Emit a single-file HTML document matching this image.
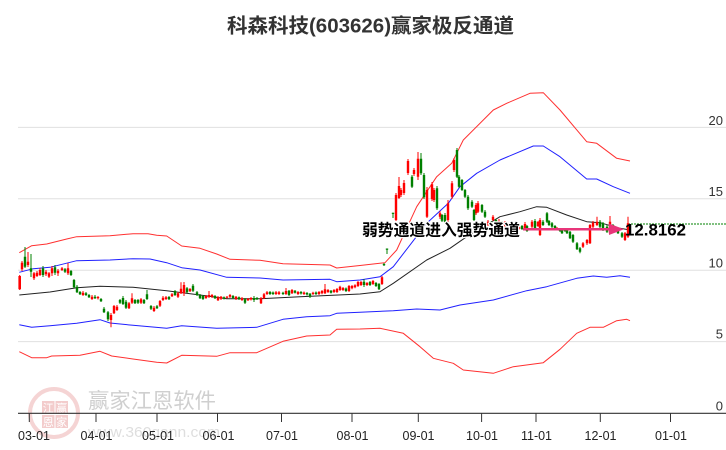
<!DOCTYPE html>
<html><head><meta charset="utf-8"><style>
html,body{margin:0;padding:0;background:#fff;}
svg{display:block;}
text{font-family:"Liberation Sans","Noto Sans CJK SC",sans-serif;}
</style></head><body>
<svg width="726" height="450" viewBox="0 0 726 450" xmlns="http://www.w3.org/2000/svg">
<rect width="726" height="450" fill="#fff"/>
<!-- watermark -->
<g opacity="0.75">
<circle cx="54" cy="413" r="24" fill="none" stroke="#f2c6c6" stroke-width="4"/>
<rect x="42" y="401" width="12.5" height="13" fill="#f0bcbc"/>
<rect x="55.5" y="401" width="12.5" height="13" fill="#f0bcbc"/>
<rect x="42" y="415" width="12.5" height="13" fill="#f0bcbc"/>
<rect x="55.5" y="415" width="12.5" height="13" fill="#f0bcbc"/>
<text x="48.2" y="412" font-size="11" fill="#fff" text-anchor="middle" font-family="Liberation Sans,Noto Sans CJK SC,sans-serif">江</text>
<text x="61.7" y="412" font-size="11" fill="#fff" text-anchor="middle">赢</text>
<text x="48.2" y="426" font-size="11" fill="#fff" text-anchor="middle">恩</text>
<text x="61.7" y="426" font-size="11" fill="#fff" text-anchor="middle">家</text>
</g>
<text x="88" y="408" font-size="21" fill="#cfcfcf" textLength="128" lengthAdjust="spacingAndGlyphs">赢家江恩软件</text>
<text x="88" y="437" font-size="15" fill="#dedede" textLength="132" lengthAdjust="spacingAndGlyphs">www.360gann.com</text>

<!-- title -->
<text x="227" y="32.5" font-size="20" font-weight="bold" fill="#333" textLength="287" lengthAdjust="spacingAndGlyphs">科森科技(603626)赢家极反通道</text>

<!-- grid -->
<g stroke="#e0e0e0" stroke-width="1">
<line x1="18" y1="127.4" x2="726" y2="127.4"/>
<line x1="18" y1="198.8" x2="726" y2="198.8"/>
<line x1="18" y1="270.2" x2="726" y2="270.2"/>
<line x1="18" y1="341.6" x2="726" y2="341.6"/>
</g>
<g font-size="13" fill="#333" text-anchor="end">
<text x="723" y="125">20</text>
<text x="723" y="196">15</text>
<text x="723" y="267.5">10</text>
<text x="723" y="338.5">5</text>
<text x="723" y="410.5">0</text>
</g>

<!-- x axis -->
<line x1="18" y1="413.3" x2="726" y2="413.3" stroke="#333" stroke-width="1.2"/>
<g stroke="#333" stroke-width="1">
<line x1="29.3" y1="413" x2="29.3" y2="422"/>
<line x1="96" y1="413" x2="96" y2="422"/>
<line x1="157" y1="413" x2="157" y2="422"/>
<line x1="217.5" y1="413" x2="217.5" y2="422"/>
<line x1="281.5" y1="413" x2="281.5" y2="422"/>
<line x1="352" y1="413" x2="352" y2="422"/>
<line x1="418.3" y1="413" x2="418.3" y2="422"/>
<line x1="481.6" y1="413" x2="481.6" y2="422"/>
<line x1="536" y1="413" x2="536" y2="422"/>
<line x1="600.3" y1="413" x2="600.3" y2="422"/>
<line x1="670.5" y1="413" x2="670.5" y2="422"/>
</g>
<g font-size="12.5" fill="#222" text-anchor="middle">
<text x="34" y="440">03-01</text>
<text x="96.5" y="440">04-01</text>
<text x="158" y="440">05-01</text>
<text x="218.5" y="440">06-01</text>
<text x="282" y="440">07-01</text>
<text x="352.5" y="440">08-01</text>
<text x="418.5" y="440">09-01</text>
<text x="482" y="440">10-01</text>
<text x="536.5" y="440">11-01</text>
<text x="600.5" y="440">12-01</text>
<text x="671" y="440">01-01</text>
</g>

<!-- bands -->
<g fill="none" stroke-width="1" stroke-linejoin="round">
<polyline stroke="#ff3030" points="19.3,252.7 31.7,245.7 46.7,244 66.7,239 76.7,236.7 110,235.7 133,233.7 148,233.7 156.7,235.3 166.7,236 181.7,246 200,248.3 216.7,254 230,259.3 260,260.3 283,263.7 330,265 336.7,268 360,265.5 385,262.7 396.7,250 416.7,206.7 436.7,176.7 451.7,163.3 463.3,140 493.3,110 506.7,103.3 530,93.3 543.3,92.7 560,110 586.7,141.7 596.7,143.3 616.7,158.3 630,161"/>
<polyline stroke="#2020ff" points="19.3,272.3 33.3,268.7 50,267.3 76.7,260.7 110,260 133,258.7 150,259 166.7,262.7 181.7,267.7 200,270 226.7,277.3 260,278 283,280 330,279.3 336.7,281.7 360,280 380,276.7 393.3,266.7 426.7,223.3 448.3,203.3 460,186.7 476.7,173.3 500,160 533.3,146 543.3,146 560,156.7 586.7,179 596.7,179 613.3,186.7 630,193.3"/>
<polyline stroke="#222" points="19.3,295 50,292 76.7,287.7 100,286.3 133,287.3 166.7,290.7 200,295 226.7,298.7 260,298.7 300,296.7 360,294 380,291.7 393.3,283.3 426.7,260 450,248.3 466.7,236.7 500,216.7 520,211.7 536.7,206.7 546.7,207.3 566.7,215 586.7,221.7 600,222.7 620,228.3 630,230"/>
<polyline stroke="#2020ff" points="19.3,324.7 31.7,327.3 50,325.7 76.7,323.3 100,319.7 110,323 133,325.3 166.7,328.3 181.7,325.7 216.7,328.3 256.7,327.3 283,319.3 306.7,316.7 330,315.7 336.7,313.3 360,312.3 393.3,310.7 416.7,309 440,310 460,305 493.3,300 526.7,290.7 546.7,286.7 576.7,278.3 593.3,276 606.7,277.3 620,275.7 630,277.3"/>
<polyline stroke="#ff3030" points="19.3,351.7 31.7,357.7 46.7,357.7 51.7,356 80,355.3 100,351.3 111.7,356 133,359 156.7,362.3 166.7,363 181.7,355.3 216.7,356.3 230,352.7 256.7,352.7 283,341.3 306.7,336 330,335 336.7,329.3 360,329 380,328.3 403.3,333.3 420,346.7 433.3,358.3 453.3,363.3 463.3,370 493.3,373.3 513.3,366.7 543.3,362.7 560,349.3 576.7,333.3 590,327.3 603.3,327.3 616.7,320.7 626.7,319.3 630,320.7"/>
</g>

<!-- green dashed level -->
<line x1="628" y1="224" x2="726" y2="224" stroke="#008000" stroke-width="1" stroke-dasharray="2,1"/>

<!-- candles: wicks -->
<path fill="none" stroke="#ff0000" stroke-width="1" d="M19.7,275V290M22,261V271M28,252V267M34,272V280M37,271V277M40,268V276M46,270V276M49,272V278M52,266V276M58,269V276M62,267V271M68,263V275M83,291V296M92,295V300M98,296V299.5M111,313V327.3M114,305V314M117,305V311M129,302V309M132,293.3V304M141,298V304M154,306V312M160,300V307M163,296V301M166,296V300M172,293V297M178,292V298M181,282.3V294M184,282V296M190,288V292M206,295V299M209,291V298M212,294V298M218,296V301M221,296V300M227,296V298.5M230,294V298M236,296V300M242,297V301M248,298V301M251,297V300.5M261,297V304M264,293V299M267,291V295M276,291V295M279,291V295M286,288V295M292,289V294M298,291V295M304,291.5V295M313,291.7V295M319,291V295M322,290V294.3M325,284V294M328,289V293M334,289V293M337,288V293M340,285.7V291M343,287V291M349,285V292M352,285V289.3M355,284.3V288.3M358,281V287M361,281V286M367,282V286M373,280V285M382,276V285M396,193V221M399,177V199M401,188V197M404,180V195M408,159V175M414,168V176M418,152V180M427,187V218M432,182V201M434,188V202M440,211V219M448,200V222M452,181V199M454,158V172M476,203V215M478,201V213M488,220V226M493,215V221M499,219V227M505,221V227M507,227V234M513,227V231M519,226V230M525,222V230M532,220V228M538,221V227M540,218V236M557,227V230.5M583,242V248M587,239V245M590,224V244M593,221V228M597,216.7V226M610,216V234M625,232V241M628,216.7V238"/>
<path fill="none" stroke="#008000" stroke-width="1" d="M25,247V268M31,254V277M43,266V277M55,265V275M65,268V273M71,270V276M74,279V288M77,285V293M80,291V295M86,292V296M89,294V298M95,295V299M101,298V302M104,307V313M108,311V321M120,299V304M123,296V305M126,300V309M135,299V304M138,299V304M144,299V304M147,290V300M151,305V310M157,305V309M169,296V300M175,290V296M187,287V293M193,284V292M197,291V296M200,294V299M203,295V300M215,295V299M224,296.5V299.5M233,295V299M239,296.5V300M245,298V304M254,296V302M257,297V300M270,291V295M273,291.5V295M283,291.7V295M289,290V296M295,290V293.5M301,291V294.5M307,292V295.5M310,293V298M316,291.5V295M331,290V293.5M346,287.5V292M364,279V287M370,281V286M376,282V287M379,283V290M384,263V266M387,248.5V254M393,212.7V218M412,175V188M421,153V175M424,173V199M437,186V210M442,214V222M445,213V223M457,148V178M459,175V188M462,179V191M465,189V198M468,195V210M472,200V208M474,209V221M482,204V213M485,210V218M491,221V227M496,219V227M502,221V228M510,225V230M516,226V231M522,225V230M527,225V232M535,219V229M543,220V226M547,212V223M549,220V226M552,222V228M555,225V229M560,228V232M562,229V234M565,228V232M567,229V234M570,231V239M573,234V243M577,242V250M580,247V253.3M600,220V228M603,222V231M607,225V233M613,224V229M616,227V231M618,229V234M622,232V238"/>

<!-- candles: bodies -->
<path fill="#ff0000" d="M18.4,276h2.6V289.3h-2.6zM20.8,262.7h2.4V269.3h-2.4zM26.8,261.7h2.4V265h-2.4zM32.8,273.3h2.4V278.3h-2.4zM35.8,272.7h2.4V276h-2.4zM38.8,270h2.4V275h-2.4zM44.8,271.7h2.4V274.3h-2.4zM47.8,273.3h2.4V276.7h-2.4zM50.8,268.3h2.4V273.3h-2.4zM56.8,270.7h2.4V273.3h-2.4zM60.8,268.3h2.4V270h-2.4zM66.8,268.3h2.4V273.3h-2.4zM81.8,292.7h2.4V295h-2.4zM90.8,296.7h2.4V299h-2.4zM96.8,297h2.4V298.3h-2.4zM109.8,315h2.4V320h-2.4zM112.8,306h2.4V313.3h-2.4zM115.8,306.7h2.4V310h-2.4zM127.8,303.3h2.4V308.3h-2.4zM130.8,298.3h2.4V302.7h-2.4zM139.8,299.3h2.4V302.7h-2.4zM152.8,307.7h2.4V311h-2.4zM158.8,301h2.4V305.7h-2.4zM161.8,297.7h2.4V300h-2.4zM164.8,297.3h2.4V299h-2.4zM170.8,294.3h2.4V296.3h-2.4zM176.8,293.3h2.4V296.7h-2.4zM179.8,288.7h2.4V293.3h-2.4zM182.8,285h2.4V293.3h-2.4zM188.8,289h2.4V291.3h-2.4zM204.8,296h2.4V298h-2.4zM207.8,295h2.4V296.7h-2.4zM210.8,295h2.4V296.7h-2.4zM216.8,297.3h2.4V300.3h-2.4zM219.8,296.7h2.4V298.7h-2.4zM225.8,296.7h2.4V297.7h-2.4zM228.8,295h2.4V296.7h-2.4zM234.8,296.7h2.4V299h-2.4zM240.8,298.3h2.4V300h-2.4zM246.8,298.7h2.4V300.3h-2.4zM249.8,298h2.4V299.5h-2.4zM259.8,298.3h2.4V303.3h-2.4zM262.8,294.3h2.4V298.3h-2.4zM265.8,292.3h2.4V294h-2.4zM274.8,292.3h2.4V294h-2.4zM277.8,292.3h2.4V294h-2.4zM284.8,291h2.4V294h-2.4zM290.8,290h2.4V293.3h-2.4zM296.8,292h2.4V294h-2.4zM302.8,292.5h2.4V294h-2.4zM311.8,292.7h2.4V294h-2.4zM317.8,292h2.4V294h-2.4zM320.8,291h2.4V293.3h-2.4zM323.8,289.3h2.4V293.3h-2.4zM326.8,290h2.4V292h-2.4zM332.8,290h2.4V292h-2.4zM335.8,289h2.4V292h-2.4zM338.8,286.7h2.4V290h-2.4zM341.8,288h2.4V290h-2.4zM347.8,286h2.4V291h-2.4zM350.8,286h2.4V288.3h-2.4zM353.8,285.3h2.4V287.3h-2.4zM356.8,282h2.4V286h-2.4zM359.8,282h2.4V285h-2.4zM365.8,283h2.4V285h-2.4zM371.8,281h2.4V284h-2.4zM380.8,277.3h2.4V284h-2.4zM394.8,195h2.4V220h-2.4zM397.8,186h2.4V198h-2.4zM399.8,190h2.4V195h-2.4zM402.8,183h2.4V193h-2.4zM406.8,161h2.4V173h-2.4zM412.8,170h2.4V174h-2.4zM416.8,158.7h2.4V176.7h-2.4zM425.8,190h2.4V216.7h-2.4zM430.8,184.3h2.4V199h-2.4zM432.8,190h2.4V200h-2.4zM438.8,213.3h2.4V216.7h-2.4zM446.8,203.3h2.4V220h-2.4zM450.8,183.3h2.4V196.7h-2.4zM452.8,160h2.4V170h-2.4zM474.8,205h2.4V213.3h-2.4zM476.8,203.3h2.4V211.7h-2.4zM486.8,221.7h2.4V225h-2.4zM491.8,216.7h2.4V220h-2.4zM497.8,221h2.4V226h-2.4zM503.8,222h2.4V226h-2.4zM505.8,228.3h2.4V233.3h-2.4zM511.8,228h2.4V230h-2.4zM517.8,227h2.4V229h-2.4zM523.8,224h2.4V229h-2.4zM530.8,221.7h2.4V226.7h-2.4zM536.8,222h2.4V226h-2.4zM538.8,220h2.4V235h-2.4zM555.8,228h2.4V229.5h-2.4zM581.8,243.3h2.4V246.7h-2.4zM585.8,240h2.4V243.3h-2.4zM588.8,225h2.4V243.3h-2.4zM591.8,222.7h2.4V226.7h-2.4zM595.8,221.7h2.4V225h-2.4zM608.8,221.7h2.4V233.3h-2.4zM623.8,233.3h2.4V240h-2.4zM626.8,223.3h2.4V236.7h-2.4z"/>
<path fill="#008000" d="M23.8,256.7h2.4V266.7h-2.4zM29.8,268.3h2.4V271.7h-2.4zM41.8,268.3h2.4V275h-2.4zM53.8,267.3h2.4V272.7h-2.4zM63.8,269.3h2.4V271.7h-2.4zM69.8,271h2.4V275h-2.4zM72.8,280h2.4V287.3h-2.4zM75.8,286.7h2.4V292.3h-2.4zM78.8,292h2.4V294.3h-2.4zM84.8,293.3h2.4V295h-2.4zM87.8,295h2.4V297.3h-2.4zM93.8,296.7h2.4V298.3h-2.4zM99.8,299h2.4V301.3h-2.4zM102.8,308.7h2.4V312.3h-2.4zM106.8,312.3h2.4V319.3h-2.4zM118.8,300h2.4V302.7h-2.4zM121.8,298h2.4V304h-2.4zM124.8,301.7h2.4V307.7h-2.4zM133.8,300h2.4V303.3h-2.4zM136.8,300h2.4V302.7h-2.4zM142.8,300h2.4V303.3h-2.4zM145.8,294.3h2.4V299h-2.4zM149.8,306h2.4V308.7h-2.4zM155.8,306.3h2.4V308.3h-2.4zM167.8,297h2.4V299.3h-2.4zM173.8,291h2.4V295h-2.4zM185.8,288.3h2.4V292.3h-2.4zM191.8,285.7h2.4V290.7h-2.4zM195.8,292.3h2.4V295h-2.4zM198.8,295h2.4V298.3h-2.4zM201.8,296h2.4V299h-2.4zM213.8,296h2.4V298.3h-2.4zM222.8,297.3h2.4V298.7h-2.4zM231.8,296h2.4V298h-2.4zM237.8,297.3h2.4V299h-2.4zM243.8,299.3h2.4V302.7h-2.4zM252.8,298h2.4V300h-2.4zM255.8,298h2.4V299.2h-2.4zM268.8,292h2.4V294h-2.4zM271.8,292.5h2.4V294h-2.4zM281.8,292.7h2.4V294h-2.4zM287.8,290.7h2.4V295h-2.4zM293.8,290.7h2.4V292.7h-2.4zM299.8,292h2.4V293.5h-2.4zM305.8,293h2.4V294.5h-2.4zM308.8,293.7h2.4V296.7h-2.4zM314.8,292.5h2.4V294h-2.4zM329.8,290.7h2.4V292.7h-2.4zM344.8,288.5h2.4V291h-2.4zM362.8,281.7h2.4V285h-2.4zM368.8,282h2.4V285h-2.4zM374.8,283h2.4V286h-2.4zM377.8,284h2.4V289.3h-2.4zM382.8,264h2.4V265.2h-2.4zM385.8,248.5h2.4V249.7h-2.4zM391.8,212.7h2.4V213.9h-2.4zM410.8,176.7h2.4V186.7h-2.4zM419.8,158.7h2.4V173.3h-2.4zM422.8,175h2.4V197.3h-2.4zM435.8,188.3h2.4V208.3h-2.4zM440.8,215h2.4V220.7h-2.4zM443.8,215h2.4V221.7h-2.4zM455.8,150h2.4V176.7h-2.4zM457.8,176.7h2.4V186.7h-2.4zM460.8,180h2.4V190h-2.4zM463.8,190h2.4V196.7h-2.4zM466.8,196.7h2.4V208.3h-2.4zM470.8,201.7h2.4V206.7h-2.4zM472.8,210h2.4V220h-2.4zM480.8,205h2.4V211.7h-2.4zM483.8,211.7h2.4V216.7h-2.4zM489.8,222h2.4V226h-2.4zM494.8,220h2.4V226h-2.4zM500.8,222h2.4V227h-2.4zM508.8,226h2.4V229h-2.4zM514.8,227h2.4V230h-2.4zM520.8,226h2.4V229h-2.4zM525.8,226h2.4V231h-2.4zM533.8,221h2.4V228.3h-2.4zM541.8,221.7h2.4V225h-2.4zM545.8,213.3h2.4V221.7h-2.4zM547.8,221h2.4V225h-2.4zM550.8,223.3h2.4V226.7h-2.4zM553.8,226h2.4V228h-2.4zM558.8,229h2.4V231h-2.4zM560.8,230h2.4V233.3h-2.4zM563.8,229h2.4V231h-2.4zM565.8,230h2.4V233.3h-2.4zM568.8,231.7h2.4V238.3h-2.4zM571.8,235h2.4V241.7h-2.4zM575.8,243.3h2.4V249.3h-2.4zM578.8,248.3h2.4V251.7h-2.4zM598.8,221.7h2.4V226.7h-2.4zM601.8,223.3h2.4V230h-2.4zM605.8,226.7h2.4V231.7h-2.4zM611.8,225h2.4V228h-2.4zM614.8,228h2.4V230h-2.4zM616.8,230h2.4V233.3h-2.4zM620.8,233.3h2.4V236.7h-2.4z"/>

<!-- arrow -->
<line x1="523" y1="229.3" x2="612" y2="229.3" stroke="#e8357a" stroke-width="2.5"/>
<polygon points="609,223.5 624,229.3 609,235" fill="#e8357a"/>

<!-- annotations -->
<text x="362" y="235.5" font-size="16" font-weight="bold" fill="#000" stroke="#fff" stroke-width="2.5" paint-order="stroke" stroke-linejoin="round" textLength="158" lengthAdjust="spacingAndGlyphs">弱势通道进入强势通道</text>
<text x="625" y="235.3" font-size="17" font-weight="bold" fill="#000" textLength="61" lengthAdjust="spacingAndGlyphs">12.8162</text>
</svg>
</body></html>
